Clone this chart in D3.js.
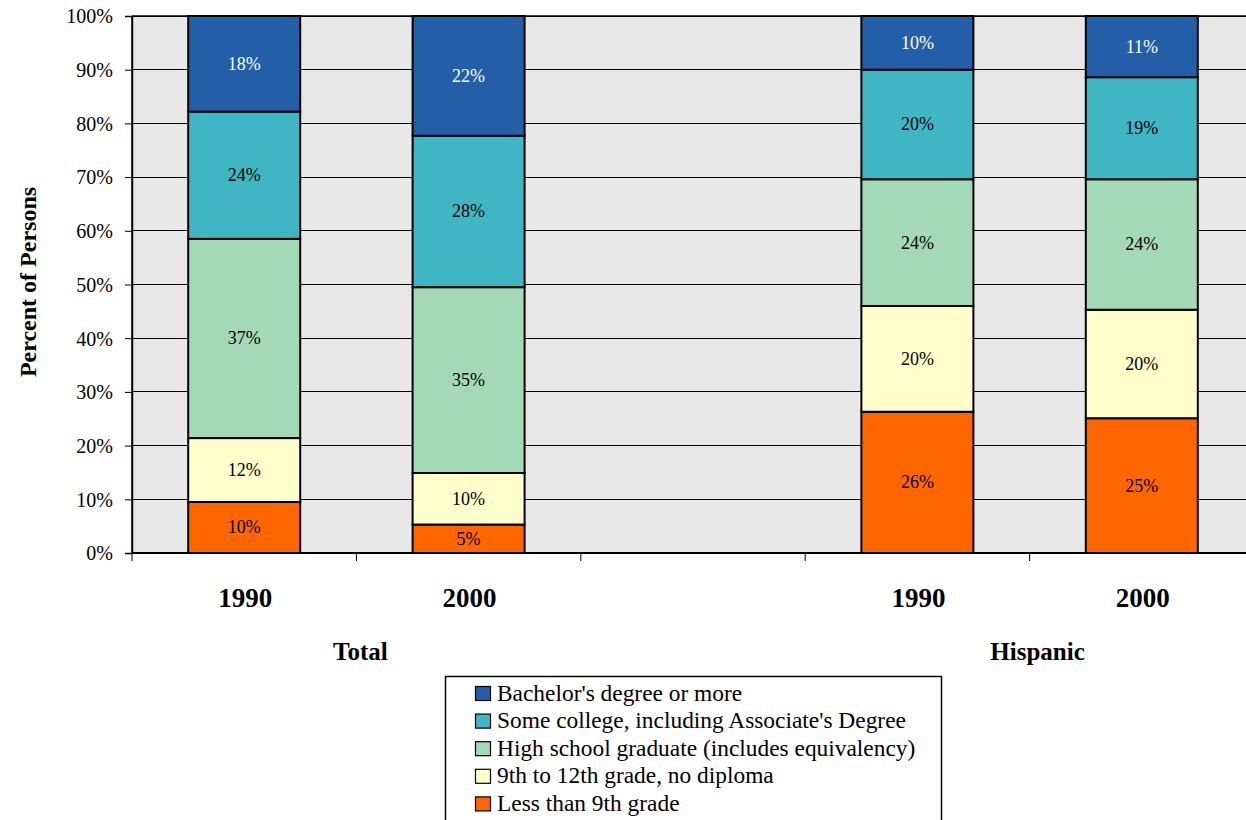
<!DOCTYPE html>
<html><head><meta charset="utf-8">
<script src="https://cdn.jsdelivr.net/npm/d3@7"></script>
</head>
<body style="margin:0;padding:0;background:#fff;overflow:hidden"><svg id="c" width="1246" height="820"></svg>
<script>
const slots = ["T1990","T2000","gap","H1990","H2000"];
const slotLabels = ["1990","2000","","1990","2000"];
const groups = ["Total","Hispanic"];
const seriesNames = ["Less than 9th grade","9th to 12th grade, no diploma","High school graduate (includes equivalency)","Some college, including Associate's Degree","Bachelor's degree or more"];
const colors = ["#ff6600","#ffffcc","#a3dab5","#40b5c4","#235fa8"];
const lessThan9 = [9.5, 5.3, null, 26.3, 25.1];
const grade9to12 = [11.9, 9.6, null, 19.7, 20.2];
const highSchool = [37.1, 34.6, null, 23.6, 24.3];
const someCollege = [23.7, 28.2, null, 20.4, 19.0];
const bachelors = [17.8, 22.3, null, 10.0, 11.4];
const yTicks = [0,10,20,30,40,50,60,70,80,90,100];

const FONT = "Liberation Serif";
const series = [lessThan9, grade9to12, highSchool, someCollege, bachelors];
const svg = d3.select("#c");
const L = 132, T = 16, B = 553, R = 132 + 5*224.4;
const x = d3.scaleBand().domain(slots).range([L, R]).paddingInner(0).paddingOuter(0);
const y = d3.scaleLinear().domain([0,100]).range([B, T]);
const bw = 112;

svg.append("rect").attr("x", L).attr("y", T).attr("width", R-L).attr("height", B-T).attr("fill", "#e8e8e8");
svg.append("g").selectAll("line").data(yTicks.filter(d=>d>0)).join("line")
  .attr("x1", L).attr("x2", R).attr("y1", d=>y(d)).attr("y2", d=>y(d))
  .attr("stroke", "#000").attr("stroke-width", 1).attr("shape-rendering","crispEdges");

const ya = svg.append("g").attr("transform", `translate(${L},0)`)
  .call(d3.axisLeft(y).tickValues(yTicks).tickFormat(d=>d+"%").tickSize(7).tickPadding(12));
ya.select(".domain").attr("stroke","#000").attr("stroke-width",1.5);
ya.selectAll(".tick line").attr("stroke","#000");
ya.selectAll("text").attr("font-size", 20).attr("fill","#000").attr("dy","0.34em");

const data = slots.map((s,i)=>{ let acc=0; return series.map((ser,k)=>{ const v=ser[i]; if(v==null) return null; const o={slot:s,k,v,y0:acc,y1:acc+v}; acc+=v; return o;}).filter(d=>d);}).flat();
const bars = svg.append("g");
bars.selectAll("rect").data(data).join("rect")
  .attr("x", d=>x(d.slot)+x.bandwidth()/2-bw/2).attr("width", bw)
  .attr("y", d=>y(d.y1)).attr("height", d=>y(d.y0)-y(d.y1))
  .attr("fill", d=>colors[d.k]).attr("stroke","#000").attr("stroke-width",2);
bars.selectAll("text").data(data).join("text")
  .attr("x", d=>x(d.slot)+x.bandwidth()/2).attr("y", d=>(y(d.y0)+y(d.y1))/2+6)
  .attr("text-anchor","middle").attr("font-size",18)
  .attr("fill", d=>d.k===4?"#fff":"#000").text(d=>Math.round(d.v)+"%");

svg.append("line").attr("x1",L).attr("x2",R).attr("y1",B).attr("y2",B).attr("stroke","#000").attr("stroke-width",2);
svg.append("line").attr("x1",L).attr("x2",L).attr("y1",T).attr("y2",B).attr("stroke","#000").attr("stroke-width",1.5);
svg.append("line").attr("x1",L).attr("x2",R).attr("y1",T).attr("y2",T).attr("stroke","#000").attr("stroke-width",1.5);
svg.append("g").selectAll("line").data(slots).join("line")
  .attr("x1", d=>x(d)).attr("x2", d=>x(d)).attr("y1", B).attr("y2", B+8).attr("stroke","#000");
svg.append("g").selectAll("text").data(slots).join("text")
  .attr("x", d=>x(d)+x.bandwidth()/2+1).attr("y", 607).attr("text-anchor","middle")
  .attr("font-size",27).attr("font-weight","bold").text((d,i)=>slotLabels[i]);
const groupCenters = [(x("T1990")+x("T2000")+x.bandwidth())/2+4, (x("H1990")+x("H2000")+x.bandwidth())/2+8];
svg.append("g").selectAll("text").data(groups).join("text")
  .attr("x",(d,i)=>groupCenters[i]).attr("y",660).attr("text-anchor","middle")
  .attr("font-size",25).attr("font-weight","bold").text(d=>d);

svg.append("text").attr("transform","translate(36,282) rotate(-90)").attr("text-anchor","middle")
  .attr("font-size",24).attr("font-weight","bold").text("Percent of Persons");

const lg = svg.append("g");
lg.append("rect").attr("x",445.5).attr("y",676.5).attr("width",496).attr("height",160).attr("fill","#fff").attr("stroke","#000").attr("stroke-width",1.5);
const order = [4,3,2,1,0];
order.forEach((k,i)=>{
  const cy = 693 + i*27.6;
  lg.append("rect").attr("x",475.5).attr("y",cy-6.5).attr("width",15).attr("height",14).attr("fill",colors[k]).attr("stroke","#000").attr("stroke-width",1.2);
  lg.append("text").attr("x",497).attr("y",cy+7.5).attr("font-size",23.4).text(seriesNames[k]);
});

svg.selectAll("text").attr("font-family", FONT).style("font-family", `"${FONT}"`);
</script></body></html>
